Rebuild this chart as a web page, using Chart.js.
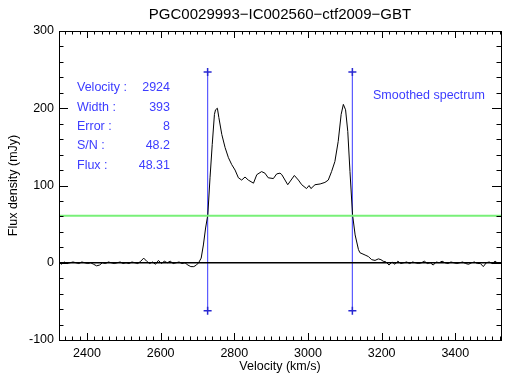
<!DOCTYPE html>
<html>
<head>
<meta charset="utf-8">
<script src="https://cdn.jsdelivr.net/npm/chart.js@4"></script>
<style>
  html, body { margin: 0; padding: 0; background: #fff; }
  #wrap { width: 513px; height: 374px; }
</style>
</head>
<body>
<div id="wrap"><canvas id="specChart"></canvas></div>
<script>
// spectrum (km/s, mJy)
const velocity = [
	2324, 2330, 2338, 2346, 2354, 2362, 2370, 2378, 2386, 2394, 2402, 2410, 2418, 2426, 2434,
	2442, 2450, 2458, 2466, 2474, 2482, 2490, 2498, 2506, 2514, 2522, 2530, 2538, 2546, 2554,
	2562, 2570, 2578, 2586, 2594, 2602, 2610, 2618, 2626, 2634, 2642, 2650, 2658, 2666, 2674,
	2682, 2690, 2697, 2703, 2710, 2716, 2722, 2728, 2734, 2740, 2746, 2749, 2754, 2758, 2766,
	2775, 2784, 2793, 2802, 2811, 2820, 2829, 2838, 2852, 2861, 2874, 2883, 2892, 2906, 2915,
	2924, 2929, 2945, 2963, 2974, 2983, 2996, 3003, 3008, 3019, 3033, 3046, 3055, 3064, 3073,
	3082, 3090, 3096, 3102, 3108, 3114, 3121, 3128, 3137, 3141, 3155, 3164, 3173, 3182, 3191,
	3198, 3204, 3212, 3220, 3228, 3236, 3244, 3252, 3260, 3268, 3276, 3284, 3292, 3300, 3308,
	3316, 3324, 3332, 3340, 3348, 3356, 3364, 3372, 3380, 3388, 3396, 3404, 3412, 3420, 3428,
	3436, 3444, 3452, 3460, 3468, 3476, 3484, 3492, 3500, 3508, 3516, 3524,
];
const flux = [
	2, -2, 1, -1, 0, 1, 0, -1, 1, 0, -1, 0, -2, -4, -3,
	0, -1, 1, 0, -1, 0, 1, -1, 0, -1, 1, 0, -1, 2, 6,
	2, -1, 1, -2, 3, -1, 2, 0, 2, -1, 0, 1, -1, 0, -3,
	-5, -5, -3, 0, 6, 23, 45, 62, 110, 153, 192, 198, 200, 188, 166,
	149, 136, 127, 120, 110, 107, 111, 107, 103, 114, 118, 116, 110, 109, 115,
	116, 114, 101, 113, 107, 101, 96, 100, 96, 101, 102, 104, 107, 118, 131,
	157, 192, 205, 198, 170, 118, 62, 36, 17, 13, 10, 8, 4, 3, 5,
	4, 2, 1, -3, 1, -2, 2, -1, 0, 1, -1, 1, 0, -1, 0,
	2, -1, 0, -3, 1, 0, 2, 0, -1, 1, 0, -1, 0, 1, -1,
	-2, 0, 1, -1, -1, -5, 0, 1, -1, 2, -1, 0,
];

const xRange = [2324, 3524];
const yRange = [-100, 300];
const xTicks = [2400, 2600, 2800, 3000, 3200, 3400];
const yTicks = [-100, 0, 100, 200, 300];

const widthEdges = [2727.5, 3120.5]; // W50 edges
const markerSpan = [-62, 247];
const levelLine = 61;

const infoLabels = ["Velocity :", "Width :", "Error :", "S/N :", "Flux :"];
const infoValues = ["2924", "393", "8", "48.2", "48.31"];

const title = "PGC0029993\u2212IC002560\u2212ctf2009\u2212GBT";
const blue = "rgb(60,60,255)";
const fontFam = "'Liberation Sans', Arial, sans-serif";

const spectrum = velocity.map((v, i) => ({ x: v, y: flux[i] }));

function markerLine(v) {
	return {
		data: [{ x: v, y: markerSpan[0] }, { x: v, y: markerSpan[1] }],
		borderColor: "rgb(90,90,255)",
		borderWidth: 1.2,
		pointStyle: "cross",
		pointRadius: 4,
		pointBorderColor: "rgb(40,40,210)",
		pointBorderWidth: 1.5,
	};
}

// IDL-like box with inward ticks, title and text
const idlFrame = {
	id: "idlFrame",
	afterDraw(chart) {
		const { ctx, chartArea: a, scales } = chart;
		const xs = scales.x, ys = scales.y;
		ctx.save();
		ctx.strokeStyle = "#000";
		ctx.lineWidth = 1;
		ctx.strokeRect(a.left + 0.5, a.top + 0.5, a.right - a.left, a.bottom - a.top);
		ctx.beginPath();
		for (let v = 2340; v <= 3520; v += 20) {
			const px = Math.round(xs.getPixelForValue(v)) + 0.5;
			const len = v % 200 === 0 ? 7 : 3.5;
			ctx.moveTo(px, a.bottom); ctx.lineTo(px, a.bottom - len);
			ctx.moveTo(px, a.top); ctx.lineTo(px, a.top + len);
		}
		for (let v = -100; v <= 300; v += 20) {
			const py = Math.round(ys.getPixelForValue(v)) + 0.5;
			const len = v % 100 === 0 ? 9 : 4.5;
			ctx.moveTo(a.left, py); ctx.lineTo(a.left + len, py);
			ctx.moveTo(a.right, py); ctx.lineTo(a.right - len, py);
		}
		ctx.stroke();

		ctx.fillStyle = "#000";
		ctx.font = "15px " + fontFam;
		ctx.textAlign = "center";
		ctx.textBaseline = "middle";
		ctx.fillText(title, (a.left + a.right) / 2, 15);

		ctx.fillStyle = blue;
		ctx.font = "12.5px " + fontFam;
		infoLabels.forEach((t, i) => {
			const y = a.top + 57 + i * 19.3;
			ctx.textAlign = "left";
			ctx.fillText(t, a.left + 18, y);
			ctx.textAlign = "right";
			ctx.fillText(infoValues[i], a.left + 111, y);
		});
		ctx.textAlign = "left";
		ctx.fillText("Smoothed spectrum", a.left + 314, a.top + 65);
		ctx.restore();
	},
};

const ctx = document.getElementById("specChart");
const chart = new Chart(ctx, {
	type: "scatter",
	data: {
		datasets: [
			{
				data: [{ x: xRange[0], y: levelLine }, { x: xRange[1], y: levelLine }],
				borderColor: "rgb(120,240,120)",
				borderWidth: 2,
				pointRadius: 0,
				showLine: true,
			},
			{
				data: [{ x: xRange[0], y: 0 }, { x: xRange[1], y: 0 }],
				borderColor: "#000",
				borderWidth: 1.5,
				pointRadius: 0,
				showLine: true,
			},
			{
				data: spectrum,
				borderColor: "#000",
				borderWidth: 1,
				pointRadius: 0,
				showLine: true,
				tension: 0,
			},
			{ ...markerLine(widthEdges[0]), showLine: true },
			{ ...markerLine(widthEdges[1]), showLine: true },
		],
	},
	options: {
		responsive: true,
		maintainAspectRatio: false,
		animation: false,
		events: [],
		layout: { padding: { left: 0, right: 12, top: 31, bottom: 0 } },
		plugins: { legend: { display: false }, tooltip: { enabled: false } },
		scales: {
			x: {
				type: "linear",
				min: xRange[0],
				max: xRange[1],
				grid: { display: false, drawTicks: false },
				border: { display: false },
				afterBuildTicks: (s) => { s.ticks = xTicks.map((v) => ({ value: v })); },
				afterFit: (s) => { s.height = 34; },
				ticks: {
					padding: 6,
					color: "#000",
					font: { family: fontFam, size: 12.5 },
					callback: (v) => String(v),
				},
				title: {
					display: true,
					text: "Velocity (km/s)",
					color: "#000",
					padding: 0,
					font: { family: fontFam, size: 12.5 },
				},
			},
			y: {
				type: "linear",
				min: yRange[0],
				max: yRange[1],
				grid: { display: false, drawTicks: false },
				border: { display: false },
				afterBuildTicks: (s) => { s.ticks = yTicks.map((v) => ({ value: v })); },
				afterFit: (s) => { s.width = 59; },
				ticks: {
					padding: 5,
					color: "#000",
					font: { family: fontFam, size: 12.5 },
					callback: (v) => String(v),
				},
				title: {
					display: true,
					text: "Flux density (mJy)",
					color: "#000",
					padding: 6,
					font: { family: fontFam, size: 12.5 },
				},
			},
		},
	},
	plugins: [idlFrame],
});
</script>
</body>
</html>
